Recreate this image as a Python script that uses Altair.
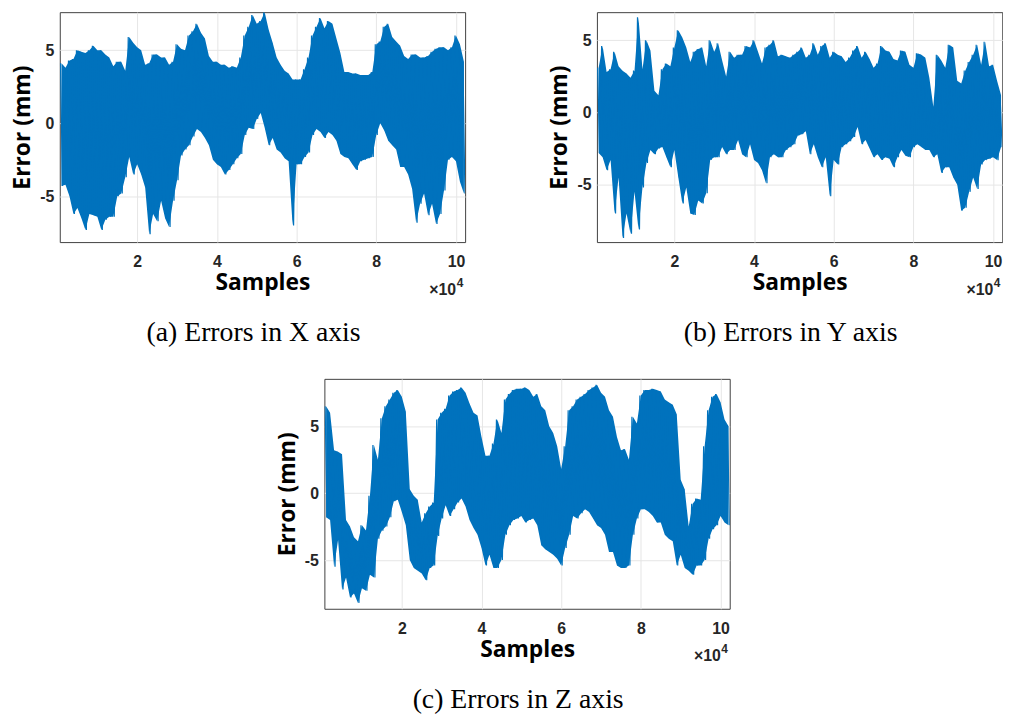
import altair as alt
import pandas as pd

BLUE = "#0072BD"

# sample grid (every 1000 samples) on which the envelopes were read
SAMPLES = list(range(1000, 102001, 1000))

X_TICKS = [20000, 40000, 60000, 80000, 100000]
Y_TICKS = [-5, 0, 5]
CAPTIONS = ["(a) Errors in X axis", "(b) Errors in Y axis", "(c) Errors in Z axis"]

# upper / lower envelope of the error signal (mm)
A_HI = [4.1, 3.8, 4.3, 4.4, 5.0, 4.9, 4.8, 5.0, 5.3, 5.0,
        5.0, 4.7, 4.5, 3.9, 4.2, 4.2, 3.6, 5.9, 5.5, 5.2,
        5.0, 4.0, 4.1, 4.7, 4.7, 4.5, 4.5, 4.0, 4.2, 5.4,
        5.1, 5.0, 6.0, 6.3, 6.8, 6.2, 5.8, 4.6, 4.2, 4.2,
        4.0, 4.0, 3.8, 3.9, 3.8, 4.5, 6.0, 6.6, 7.4, 6.8,
        7.0, 7.6, 6.4, 5.5, 4.5, 4.0, 3.6, 3.4, 3.0, 3.0,
        3.0, 3.7, 4.5, 6.0, 6.6, 7.2, 6.5, 7.0, 6.8, 5.8,
        4.8, 3.5, 3.5, 3.4, 3.4, 3.3, 3.3, 3.3, 3.5, 5.4,
        5.6, 6.6, 6.8, 5.9, 5.6, 5.3, 4.6, 4.4, 4.7, 4.7,
        4.5, 4.5, 4.6, 4.9, 5.1, 5.2, 5.2, 5.0, 5.2, 6.0,
        5.4, 4.2]
A_LO = [-4.3, -4.2, -5.0, -6.2, -5.8, -6.5, -7.3, -6.2, -6.3, -6.4,
        -7.3, -6.6, -6.4, -6.4, -5.0, -4.8, -3.7, -2.3, -3.5, -2.8,
        -3.5, -4.4, -7.6, -6.2, -6.7, -5.3, -6.5, -7.1, -5.3, -3.9,
        -2.2, -1.8, -1.5, -0.9, -0.4, -0.6, -1.0, -1.5, -2.5, -2.8,
        -3.0, -3.5, -3.2, -2.8, -2.4, -2.1, -0.8, -0.3, -0.4, 0.3,
        0.7, -0.3, -1.5, -1.0, -1.8, -2.0, -2.4, -2.6, -7.0, -2.8,
        -2.8, -2.3, -2.0, -0.8, -0.4, -0.6, -1.0, -0.6, -0.8, -1.2,
        -2.1, -2.3, -2.4, -2.8, -3.2, -2.6, -2.5, -2.4, -2.3, -0.8,
        0.0, -0.5, -1.2, -1.5, -1.8, -3.0, -3.0, -3.5, -4.5, -6.8,
        -5.5, -4.8, -6.3, -5.5, -6.9, -6.2, -4.6, -2.5, -2.3, -2.6,
        -4.0, -4.8]

B_HI = [3.1, 4.6, 2.8, 3.0, 4.2, 3.2, 2.9, 2.7, 2.4, 2.9,
        6.6, 3.0, 5.0, 4.3, 1.5, 1.2, 3.0, 3.4, 3.2, 4.5,
        5.7, 5.2, 4.5, 3.5, 4.2, 4.4, 4.5, 3.2, 5.0, 4.2,
        4.8, 3.6, 2.5, 4.2, 3.8, 4.0, 4.0, 4.6, 4.5, 5.0,
        4.2, 3.4, 4.5, 4.7, 5.0, 3.9, 4.0, 3.9, 3.8, 4.0,
        4.2, 4.5, 3.8, 4.0, 4.8, 4.0, 4.6, 4.8, 3.8, 4.2,
        4.0, 3.9, 3.5, 3.8, 4.3, 4.6, 3.8, 4.2, 3.7, 3.1,
        3.4, 4.6, 4.3, 4.2, 3.7, 3.6, 4.3, 4.2, 3.3, 3.1,
        4.1, 4.0, 3.8, 2.4, 0.4, 4.0, 3.6, 3.1, 4.7, 4.5,
        2.2, 2.0, 2.9, 3.5, 4.0, 4.7, 3.3, 4.9, 3.2, 3.3,
        2.2, 1.2]
B_LO = [-2.8, -3.1, -4.0, -3.3, -7.0, -4.5, -8.7, -7.0, -8.4, -5.5,
        -8.1, -5.2, -3.5, -2.6, -2.9, -2.5, -2.4, -3.1, -3.8, -2.6,
        -4.5, -6.3, -5.2, -7.0, -7.1, -6.1, -6.3, -5.6, -3.3, -3.1,
        -3.1, -2.4, -2.9, -2.6, -2.6, -1.9, -2.9, -3.1, -2.2, -3.3,
        -3.5, -4.0, -4.9, -3.1, -2.9, -3.1, -3.1, -2.6, -2.4, -2.2,
        -1.6, -1.5, -1.3, -2.9, -2.2, -3.1, -3.8, -3.1, -5.8, -3.3,
        -3.6, -2.4, -2.2, -2.0, -1.7, -1.0, -2.2, -1.9, -2.5, -3.1,
        -2.9, -3.3, -3.1, -3.2, -3.8, -3.1, -2.6, -3.0, -3.1, -2.4,
        -2.2, -2.4, -2.6, -2.6, -3.1, -2.9, -4.2, -3.8, -3.8, -4.5,
        -5.0, -6.8, -6.6, -5.5, -4.5, -5.3, -3.6, -3.3, -3.2, -3.1,
        -3.3, -2.4]

C_HI = [6.5, 6.0, 3.2, 3.1, 2.9, -2.0, -2.5, -3.3, -3.6, -2.4,
        -2.8, -0.2, 3.6, 2.5, 5.6, 6.5, 7.0, 7.5, 7.7, 7.2,
        6.1, 0.3, -0.2, -0.5, -2.2, -1.5, -1.0, -0.7, 5.5, 6.0,
        6.3, 7.3, 7.6, 7.7, 7.9, 7.5, 6.7, 6.0, 5.8, 4.2,
        2.8, 2.8, 3.7, 5.5, 4.5, 7.0, 7.4, 7.7, 7.8, 7.8,
        7.9, 7.7, 7.2, 7.4, 6.5, 6.2, 5.0, 4.5, 3.5, 1.8,
        3.5, 6.2, 6.5, 7.0, 7.2, 7.4, 7.7, 7.9, 8.1, 7.5,
        7.2, 6.2, 5.7, 4.2, 3.2, 3.3, 2.5, 5.7, 5.2, 7.3,
        7.7, 7.7, 7.8, 7.7, 7.6, 7.0, 6.8, 6.6, 5.9, 1.0,
        0.3, -2.5, -0.8, -0.4, -0.5, 3.5, 6.2, 7.2, 7.4, 6.8,
        5.5, 5.0]
C_LO = [-1.8, -2.0, -5.5, -3.5, -7.2, -6.3, -7.8, -7.5, -8.2, -7.1,
        -7.3, -6.1, -6.3, -3.4, -2.8, -2.5, -1.8, -0.6, -0.5, -1.4,
        -2.4, -5.0, -5.6, -5.8, -6.0, -6.5, -5.6, -5.4, -3.2, -1.9,
        -0.9, -1.7, -1.2, -0.7, -0.4, -1.0, -2.0, -2.6, -3.1, -4.1,
        -5.4, -4.6, -5.6, -5.6, -5.0, -3.1, -2.4, -2.0, -1.9, -1.7,
        -2.2, -2.0, -1.9, -2.4, -3.9, -4.2, -4.4, -4.6, -4.9, -5.4,
        -4.1, -3.1, -1.7, -1.9, -1.5, -1.2, -1.4, -1.9, -2.4, -2.6,
        -3.1, -4.4, -4.4, -5.4, -5.6, -5.6, -5.4, -3.1, -1.9, -1.2,
        -1.2, -1.4, -1.7, -2.2, -2.2, -3.1, -3.4, -3.6, -5.4, -4.6,
        -5.6, -5.8, -6.1, -5.4, -5.4, -5.0, -3.4, -2.7, -2.4, -1.7,
        -2.2, -2.4]

X_DOMAIN = [570, 102300]
Y_DOMAINS = [[-8.13, 7.6], [-8.98, 6.95], [-8.64, 8.54]]

W, H = 409, 232


def panel(hi, lo, ydom, caption, extra_right=0):
    area_df = pd.DataFrame({"s": SAMPLES, "hi": hi, "lo": lo})
    zig = []
    for s, h, l in zip(SAMPLES, hi, lo):
        zig.append({"s": s - 250, "v": h})
        zig.append({"s": s + 250, "v": l})
    zig_df = pd.DataFrame(zig)
    zig_df["o"] = range(len(zig_df))

    xs = alt.Scale(domain=X_DOMAIN, nice=False, zero=False)
    ys = alt.Scale(domain=ydom, nice=False, zero=False)
    xax = alt.Axis(values=X_TICKS, labelExpr="'' + datum.value / 10000",
                   title="Samples")
    yax = alt.Axis(values=Y_TICKS,
                   labelExpr="datum.value < 0 ? '-' + (-datum.value) : '' + datum.value",
                   title="Error (mm)")

    area = alt.Chart(area_df).mark_area(color=BLUE, clip=True, opacity=1).encode(
        x=alt.X("s:Q", scale=xs, axis=xax),
        y=alt.Y("lo:Q", scale=ys, axis=yax),
        y2="hi:Q",
    )
    line = alt.Chart(zig_df).mark_line(color=BLUE, strokeWidth=1.2, clip=True).encode(
        x=alt.X("s:Q", scale=xs, axis=xax),
        y=alt.Y("v:Q", scale=ys, axis=yax),
        order="o:Q",
    )
    txt = pd.DataFrame({"t": [caption]})
    cap = alt.Chart(txt).mark_text(
        font="Liberation Serif", fontSize=28, align="center", baseline="alphabetic",
        color="black").encode(text="t:N", x=alt.value(195.5), y=alt.value(H + 100))
    mult = alt.Chart(pd.DataFrame({"t": ["\u00d710"]})).mark_text(
        font="Liberation Sans", fontSize=16, fontWeight="bold", align="right",
        baseline="alphabetic", color="#262626").encode(
        text="t:N", x=alt.value(400), y=alt.value(H + 53))
    expo = alt.Chart(pd.DataFrame({"t": ["4"]})).mark_text(
        font="Liberation Sans", fontSize=12, fontWeight="bold", align="left",
        baseline="alphabetic", color="#262626").encode(
        text="t:N", x=alt.value(400.5), y=alt.value(H + 45))
    layers = [area, line, cap, mult, expo]
    if extra_right:
        spacer = alt.Chart(pd.DataFrame({"t": [0]})).mark_rule(opacity=0).encode(
            x=alt.value(W + extra_right), y=alt.value(0), y2=alt.value(5))
        layers.append(spacer)
    return alt.layer(*layers).properties(width=W, height=H)


pa = panel(A_HI, A_LO, Y_DOMAINS[0], CAPTIONS[0])
pb = panel(B_HI, B_LO, Y_DOMAINS[1], CAPTIONS[1])
pc = panel(C_HI, C_LO, Y_DOMAINS[2], CAPTIONS[2], extra_right=8)

row = alt.hconcat(pa, pb, spacing=83)
chart = alt.vconcat(row, pc, spacing=30, center=True).properties(
    padding={"left": 3, "top": 0, "right": 0, "bottom": 0}
).configure_view(
    stroke="#404040", strokeWidth=1
).configure_axis(
    labelFont="Liberation Sans", labelFontSize=16, labelFontWeight="bold",
    labelColor="#262626", titleFont="Open Sans", titleFontSize=23,
    titleFontWeight="bold", titleColor="#000000", ticks=False, domain=False,
    grid=True, gridColor="#e6e6e6", gridWidth=1,
).configure_axisX(
    labelPadding=12, titlePadding=2
).configure_axisY(
    labelPadding=6, titlePadding=5
)

chart.save("out.html", embed_options={"renderer": "svg", "actions": False})
